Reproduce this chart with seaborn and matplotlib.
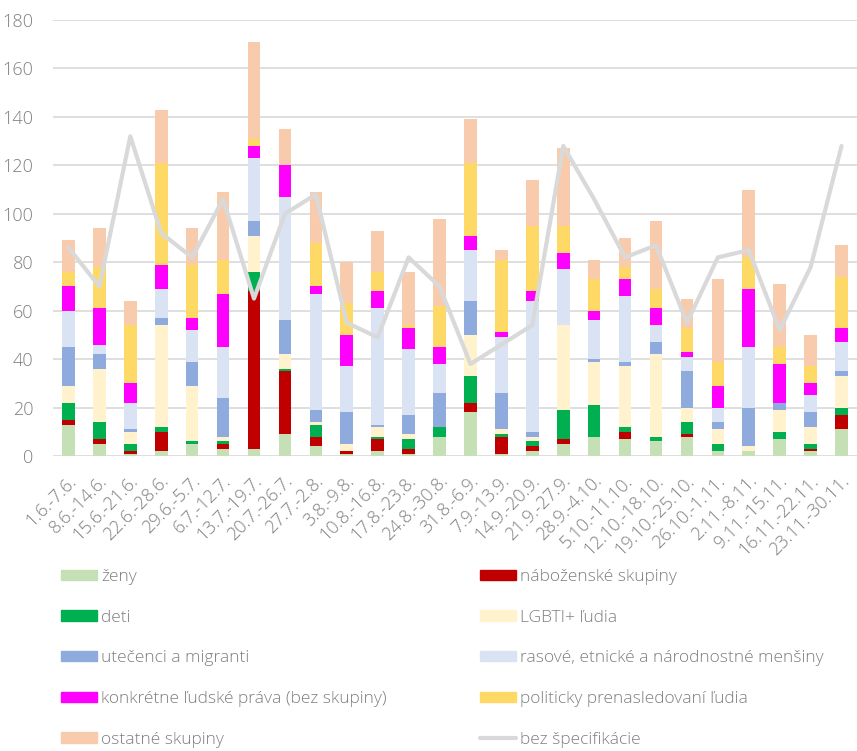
import numpy as np
import pandas as pd
import seaborn as sns
import matplotlib.pyplot as plt
import matplotlib.transforms as mtransforms
from matplotlib.patches import Patch
from matplotlib.lines import Line2D

weeks = ["1.6.-7.6.", "8.6.-14.6.", "15.6.-21.6.", "22.6.-28.6.", "29.6.-5.7.",
         "6.7.-12.7.", "13.7.-19.7.", "20.7.-26.7.", "27.7.-2.8.", "3.8.-9.8.",
         "10.8.-16.8.", "17.8.-23.8.", "24.8.-30.8.", "31.8.-6.9.", "7.9.-13.9.",
         "14.9.-20.9.", "21.9.-27.9.", "28.9.-4.10.", "5.10.-11.10.", "12.10.-18.10.",
         "19.10.-25.10.", "26.10.-1.11.", "2.11.-8.11.", "9.11.-15.11.", "16.11.-22.11.",
         "23.11.-30.11."]

zeny = [13, 5, 1, 2, 5, 3, 3, 9, 4, 1, 2, 1, 8, 18, 1, 2, 5, 8, 7, 6, 8, 2, 2, 7, 2, 11]
nabozenske = [2, 2, 1, 8, 0, 2, 65, 26, 4, 1, 5, 2, 0, 4, 7, 2, 2, 0, 3, 0, 1, 0, 0, 0, 1, 6]
deti = [7, 7, 3, 2, 1, 1, 8, 1, 5, 0, 1, 4, 4, 11, 1, 2, 12, 13, 2, 2, 5, 3, 0, 3, 2, 3]
lgbti = [7, 22, 5, 42, 23, 2, 15, 6, 1, 3, 4, 2, 0, 17, 2, 2, 35, 18, 25, 34, 6, 6, 2, 9, 7, 13]
utecenci = [16, 6, 1, 3, 10, 16, 6, 14, 5, 13, 1, 8, 14, 14, 15, 2, 0, 1, 2, 5, 15, 3, 16, 3, 6, 2]
rasove = [15, 4, 11, 12, 13, 21, 26, 51, 48, 19, 48, 27, 12, 21, 23, 54, 23, 16, 27, 7, 6, 6, 25, 0, 7, 12]
konkretne = [10, 15, 8, 10, 5, 22, 5, 13, 3, 13, 7, 9, 7, 6, 2, 4, 7, 4, 7, 7, 2, 9, 24, 16, 5, 6]
politicky = [6, 17, 24, 42, 22, 14, 3, 0, 18, 13, 8, 1, 17, 30, 30, 27, 11, 13, 5, 8, 10, 10, 13, 7, 7, 21]
ostatne = [13, 16, 10, 22, 15, 28, 40, 15, 21, 17, 17, 22, 36, 18, 4, 19, 32, 8, 12, 28, 12, 34, 28, 26, 13, 13]
bez_specifikacie = [86, 70, 132, 92, 82, 106, 65, 100, 108, 55, 49, 82, 70, 38, 46, 54, 128, 106, 82, 87,
                    55, 82, 85, 52, 78, 128]

labels = ["ženy", "náboženské skupiny", "deti", "LGBTI+ ľudia", "utečenci a migranti",
          "rasové, etnické a národnostné menšiny", "konkrétne ľudské práva (bez skupiny)",
          "politicky prenasledovaní ľudia", "ostatné skupiny"]
colors = ["#C5E0B4", "#C00000", "#00B050", "#FFF2CC", "#8FAADC",
          "#DAE3F3", "#FF00FF", "#FFD966", "#F8CBAD"]
line_label = "bez špecifikácie"
line_color = "#D9D9D9"

df = pd.DataFrame(dict(zip(labels, [zeny, nabozenske, deti, lgbti, utecenci,
                                     rasove, konkretne, politicky, ostatne])))
df["week"] = weeks
cum = df[labels].cumsum(axis=1)

sns.set_style("white")
plt.rcParams["font.family"] = ["Open Sans", "DejaVu Sans"]
plt.rcParams["font.weight"] = "light"
text_color = "#7F7F7F"

fig = plt.figure(figsize=(8.57, 7.51), dpi=100)
ax = fig.add_axes([53 / 857, 1 - 456 / 751, 1 - 53 / 857, 436 / 751])

# cumulative bars, drawn tallest first so each layer shows its own segment
for lab, col in zip(labels[::-1], colors[::-1]):
    sns.barplot(x=df["week"], y=cum[lab], color=col, width=0.41,
                saturation=1, linewidth=0, ax=ax, zorder=2)

sns.lineplot(x=np.arange(len(weeks)), y=bez_specifikacie, color=line_color,
             linewidth=3.0, ax=ax, zorder=3)

ax.set_ylim(0, 180)
ax.set_xlim(-0.5, len(weeks) - 0.5)
ax.set_yticks(range(0, 181, 20))
ax.yaxis.grid(True, color="#D9D9D9", linewidth=1.2, zorder=0)
ax.set_axisbelow(True)
for s in ax.spines.values():
    s.set_visible(False)
ax.set_xlabel("")
ax.set_ylabel("")
ax.tick_params(axis="both", length=0, labelcolor=text_color, labelsize=13)
ax.tick_params(axis="y", pad=14)
ax.tick_params(axis="x", pad=16)
ax.set_xticks(range(len(weeks)))
ax.set_xticklabels(weeks, rotation=45, ha="right", va="center", rotation_mode="anchor")
shift = mtransforms.ScaledTranslation(5 / 100, 0, fig.dpi_scale_trans)
for t in ax.get_xticklabels():
    t.set_transform(t.get_transform() + shift)

# legend in two columns, filled row by row
handles = [Patch(color=c, label=l) for l, c in zip(labels, colors)]
handles.append(Line2D([], [], color=line_color, linewidth=3.0, label=line_label))
left = handles[0::2]
right = handles[1::2]
common = dict(loc="upper left", frameon=False, fontsize=12.5, handlelength=2.1,
              handleheight=0.55, handletextpad=0.22, labelspacing=1.42,
              borderpad=0, borderaxespad=0, labelcolor=text_color)
fig.legend(handles=left, bbox_to_anchor=(61 / 857, 1 - 569 / 751), **common)
fig.legend(handles=right, bbox_to_anchor=(480 / 857, 1 - 569 / 751), **common)

fig.savefig("out.png", dpi=100)
